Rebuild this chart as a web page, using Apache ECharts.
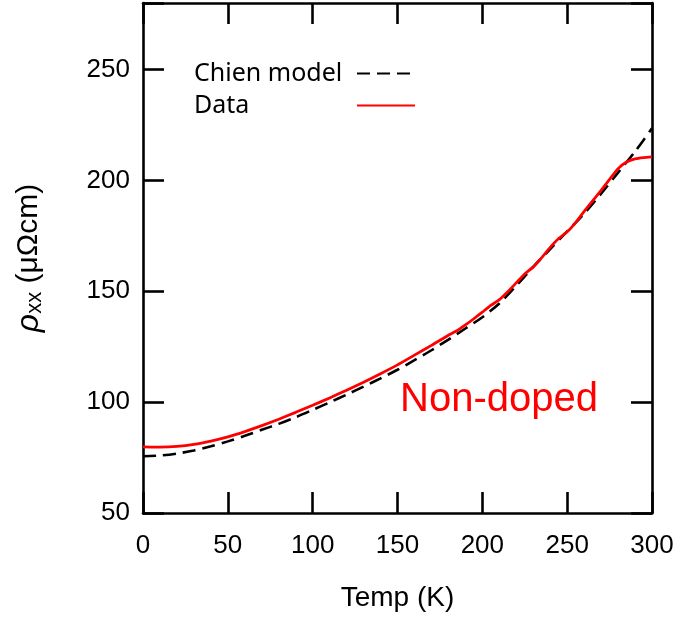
<!DOCTYPE html>
<html>
<head>
<meta charset="utf-8">
<script src="https://cdn.jsdelivr.net/npm/echarts@6/dist/echarts.min.js"></script>
<style>
html,body{margin:0;padding:0;background:#fff;}
#chart{width:677px;height:620px;}
</style>
</head>
<body>
<div id="chart"></div>
<script>
// Chien model (dashed black)
var chienT = [0,10,20,30,40,50,60,70,80,90,100,110,120,130,140,150,160,170,180,190,200,210,220,230,240,250,260,270,280,290,300];
var chienV = [75.6,75.9,76.8,78.2,80.1,82.3,84.8,87.5,90.2,93.2,96.5,99.9,103.4,107.0,110.7,114.6,118.9,123.4,128.2,133.2,138.3,144.5,152.5,161.0,169.0,177.0,185.0,194.0,203.5,213.0,223.5];
// Measured data (red)
var dataT = [0,10,20,30,40,50,60,70,80,90,100,110,120,130,140,150,160,170,180,185,190,195,200,205,210,215,220,225,230,235,240,245,250,255,260,265,270,275,280,285,290,295,300];
var dataV = [79.8,79.7,80.0,80.9,82.4,84.3,86.7,89.4,92.3,95.4,98.6,101.9,105.4,109.0,112.8,116.8,121.2,125.6,130.2,132.2,134.8,137.6,140.6,143.6,146.2,149.8,153.8,157.8,161.0,165.2,169.8,173.8,176.8,181.0,186.0,190.8,195.5,200.5,205.3,208.3,209.7,210.3,210.6];
var xTicks = [0,50,100,150,200,250,300];
var yTicks = [50,100,150,200,250];

function pairs(t, v){ return t.map(function(x,i){ return [x, v[i]]; }); }

var chart = echarts.init(document.getElementById('chart'), null, {renderer:'canvas'});
var axisLineStyle = {color:'#000', width:2.6};
var lblFont = 'Liberation Sans, Arial, sans-serif';
var baseX = {type:'value', min:xTicks[0], max:xTicks[xTicks.length-1], interval:50,
  splitLine:{show:false}, axisLine:{show:true, onZero:false, lineStyle:axisLineStyle},
  axisTick:{show:true, inside:true, length:21, lineStyle:{color:'#000', width:2.6}}};
var baseY = {type:'value', min:yTicks[0], max:280, interval:50,
  splitLine:{show:false}, axisLine:{show:true, onZero:false, lineStyle:axisLineStyle},
  axisTick:{show:true, inside:true, length:21, lineStyle:{color:'#000', width:2.6}}};

var option = {
  animation:false,
  backgroundColor:'#fff',
  grid:{left:143, right:25, top:3, bottom:107, containLabel:false},
  legend:{
    orient:'vertical', left:194, top:61, padding:0, itemGap:7, align:'right',
    itemWidth:58, itemHeight:14,
    itemStyle:{opacity:0},
    formatter:function(name){ return '{a|' + name + '}'; },
    textStyle:{fontFamily:'Noto Sans, sans-serif', fontSize:25, color:'#000',
      rich:{a:{width:158, align:'left', fontFamily:'Noto Sans, sans-serif', fontSize:25, color:'#000', lineHeight:28}}},
    data:[{name:'Chien model'},{name:'Data'}]
  },
  xAxis:[
    Object.assign({}, baseX, {position:'bottom',
      axisLabel:{show:true, margin:20, color:'#000', fontSize:26, fontFamily:lblFont,
        formatter:function(v){ return xTicks.indexOf(v)>=0 ? String(v) : ''; }},
      name:'Temp (K)', nameLocation:'middle', nameGap:71,
      nameTextStyle:{color:'#000', fontSize:28, fontFamily:lblFont}}),
    Object.assign({}, baseX, {position:'top', axisLabel:{show:false}})
  ],
  yAxis:[
    Object.assign({}, baseY, {position:'left',
      axisLabel:{show:true, margin:13, color:'#000', fontSize:26, fontFamily:lblFont,
        formatter:function(v){ return yTicks.indexOf(v)>=0 ? String(v) : ''; }},
      name:'{r|ρ}{s|xx}{n| (μΩcm)}', nameLocation:'middle', nameGap:97, nameRotate:90,
      nameTextStyle:{color:'#000', fontFamily:lblFont,
        rich:{
          r:{fontSize:32, fontStyle:'italic', fontFamily:lblFont, color:'#000'},
          s:{fontSize:22, fontFamily:lblFont, color:'#000', padding:[12,0,0,0]},
          n:{fontSize:30, fontFamily:lblFont, color:'#000'}
        }}}),
    Object.assign({}, baseY, {position:'right', axisLabel:{show:false}})
  ],
  series:[
    {name:'Chien model', type:'line', data:pairs(chienT, chienV), showSymbol:false, symbol:'none',
      smooth:0.3, z:2,
      lineStyle:{color:'#000', width:2.6, type:[13,7]}, itemStyle:{color:'#000'}},
    {name:'Data', type:'line', data:pairs(dataT, dataV), showSymbol:false, symbol:'none',
      smooth:0.15, z:3,
      lineStyle:{color:'#ff0000', width:2.8}, itemStyle:{color:'#ff0000'}}
  ],
  graphic:[
    {type:'text', left:400, top:380,
      style:{text:'Non-doped', fill:'#ff0000', font:'40px "Liberation Sans", Arial, sans-serif'}}
  ]
};
chart.setOption(option);
</script>
</body>
</html>
